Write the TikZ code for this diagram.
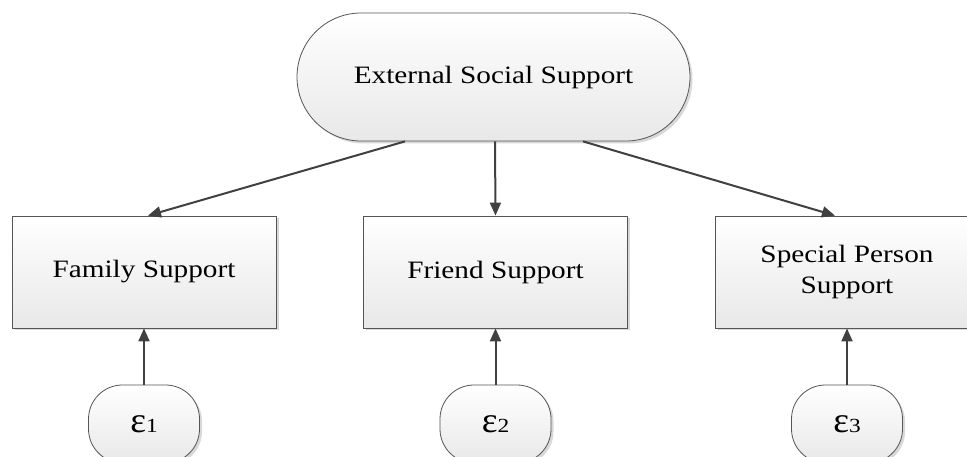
\documentclass[tikz,border=0pt]{standalone}
\usepackage{fontspec}
\setmainfont[FakeStretch=1.17]{Liberation Serif}
\usetikzlibrary{arrows.meta,shapes.misc,shadows}
\definecolor{edgec}{HTML}{555555}
\definecolor{arrowc}{HTML}{404040}
\tikzset{
  boxbase/.style={draw=edgec, line width=0.8pt, top color=white, bottom color=black!9,
    drop shadow={shadow xshift=2.5pt, shadow yshift=-2.5pt, fill=black!30, opacity=0.5}},
  latent/.style={boxbase, rounded rectangle, minimum width=393pt, minimum height=128pt,
    inner sep=0pt, font=\fontsize{25}{31}\selectfont},
  obsbox/.style={boxbase, rectangle, minimum width=264pt, minimum height=112pt,
    inner sep=0pt, align=center, font=\fontsize{25}{31}\selectfont},
  errnode/.style={boxbase, rectangle, rounded corners=34pt, minimum width=111pt,
    minimum height=78pt, inner sep=0pt},
  conn/.style={draw=arrowc, line width=2pt, -{Triangle[length=13pt,width=11pt]}}
}
\newcommand{\errlabel}[1]{\scalebox{1}[1.12]{\fontsize{32}{32}\selectfont ε}{\fontsize{20}{20}\selectfont #1}}
\begin{document}
\begin{tikzpicture}[x=1pt,y=1pt]
\useasboundingbox (0,0) rectangle (967,457);
\node[latent] (ext) at (493.5,380) {External Social Support};
\node[obsbox] (fam) at (144,185) {Family Support};
\node[obsbox] (fri) at (495.5,185) {Friend Support};
\node[obsbox] (spe) at (847,185) {Special Person\\Support};
\node[errnode] (e1) at (144,33) {\errlabel{1}};
\node[errnode] (e2) at (495.5,33) {\errlabel{2}};
\node[errnode] (e3) at (847,33) {\errlabel{3}};
\draw[conn] ([xshift=-88.5pt]ext.south) -- ([xshift=4pt]fam.north);
\draw[conn] ([xshift=1.5pt]ext.south) -- (fri.north);
\draw[conn] ([xshift=89.5pt]ext.south) -- ([xshift=-12pt]spe.north);
\draw[conn] (e1.north) -- (fam.south);
\draw[conn] (e2.north) -- (fri.south);
\draw[conn] (e3.north) -- (spe.south);
\end{tikzpicture}
\end{document}
